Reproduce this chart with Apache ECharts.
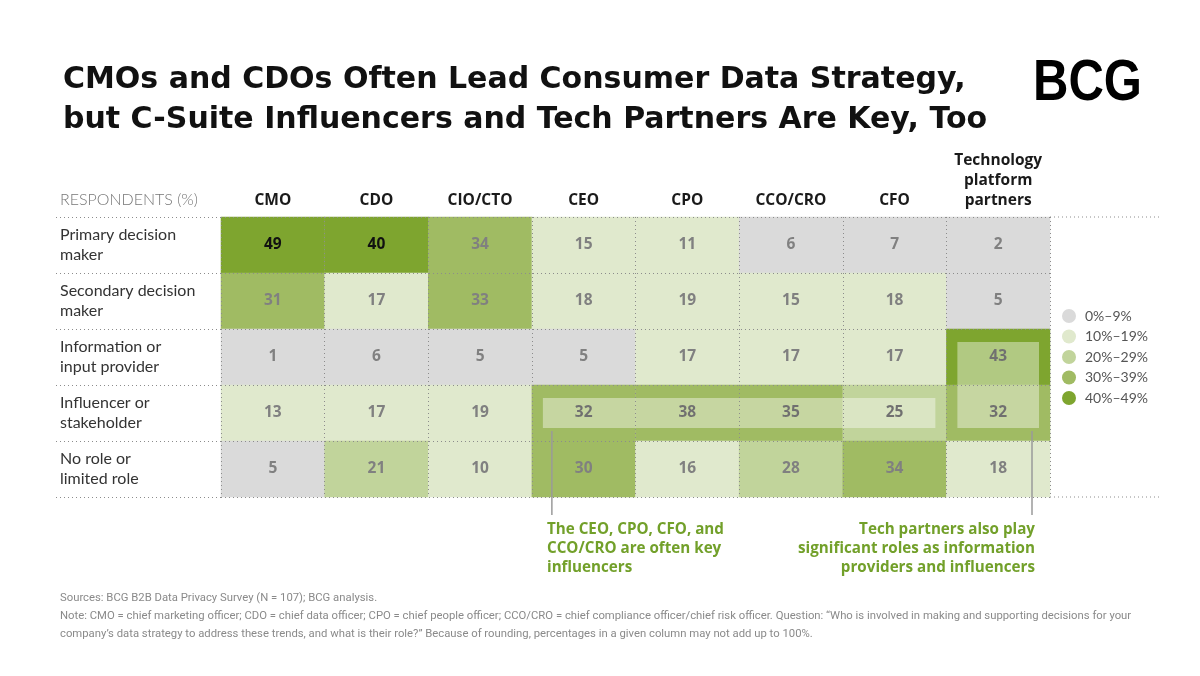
<!DOCTYPE html>
<html>
<head>
<meta charset="utf-8">
<title>Consumer data strategy roles</title>
<script src="https://cdn.jsdelivr.net/npm/echarts@6/dist/echarts.min.js"></script>
<style>
  html, body { margin: 0; padding: 0; background: #fff; }
  #chart { width: 1200px; height: 676px; }
</style>
</head>
<body>
<div id="chart"></div>
<script>
// Columns (who) and rows (role)
const columns = ['CMO', 'CDO', 'CIO/CTO', 'CEO', 'CPO', 'CCO/CRO', 'CFO', 'Technology\nplatform\npartners']
const roles = [
  'Primary decision\nmaker',
  'Secondary decision\nmaker',
  'Information or\ninput provider',
  'Influencer or\nstakeholder',
  'No role or\nlimited role'
]

// Respondents (%) per role, one value per column
const primaryDecision = [49, 40, 34, 15, 11, 6, 7, 2]
const secondaryDecision = [31, 17, 33, 18, 19, 15, 18, 5]
const informationProvider = [1, 6, 5, 5, 17, 17, 17, 43]
const influencer = [13, 17, 19, 32, 38, 35, 25, 32]
const noRole = [5, 21, 10, 30, 16, 28, 34, 18]
const rows = [primaryDecision, secondaryDecision, informationProvider, influencer, noRole]

// Legend bands
const bandLabels = ['0%–9%', '10%–19%', '20%–29%', '30%–39%', '40%–49%']
const bandMins = [0, 10, 20, 30, 40]
const bandColors = ['#dadada', '#e0e9cd', '#c1d49b', '#a0bb63', '#7ea52f']

// Highlighted blocks: [firstCol, firstRow, lastCol, lastRow, callout side]
const highlights = [
  [3, 3, 6, 3, 'left'],
  [7, 2, 7, 3, 'right']
]

const noteLeft = ['The CEO, CPO, CFO, and', 'CCO/CRO are often key', 'influencers']
const noteRight = ['Tech partners also play', 'significant roles as information', 'providers and influencers']

const isHighlighted = (c, r) => highlights.some(h => c >= h[0] && c <= h[2] && r >= h[1] && r <= h[3])

const cells = []
rows.forEach((vals, r) => {
  vals.forEach((v, c) => {
    const strong = v >= 40 || isHighlighted(c, r)
    cells.push({
      value: [c, r, v],
      label: { color: strong ? '#111' : '#808080' }
    })
  })
})

const dotted = { color: '#8c8c8c', width: 1, type: [1, 3] }
const green = '#72a02a'
const noteFont = 'bold 15.2px "Open Sans", sans-serif'

// annotation lines, one text element per line
const noteGraphics = []
noteLeft.forEach((line, i) => {
  noteGraphics.push({
    type: 'text', x: 547, y: 522 + i * 19,
    style: { text: line, font: noteFont, fill: green, align: 'left', verticalAlign: 'top' }
  })
})
noteRight.forEach((line, i) => {
  noteGraphics.push({
    type: 'text', x: 1035, y: 522 + i * 19,
    style: { text: line, font: noteFont, fill: green, align: 'right', verticalAlign: 'top' }
  })
})

const chart = echarts.init(document.getElementById('chart'))

chart.setOption({
  animation: false,
  title: {
    text: 'CMOs and CDOs Often Lead Consumer Data Strategy,\nbut C-Suite Influencers and Tech Partners Are Key, Too',
    left: 58,
    top: 55,
    textStyle: {
      fontFamily: 'DejaVu Sans',
      fontWeight: 700,
      fontSize: 30,
      lineHeight: 40,
      color: '#111'
    }
  },
  grid: { left: 221, right: 150, top: 217, bottom: 179 },
  xAxis: {
    type: 'category',
    data: columns,
    position: 'top',
    z: 5,
    axisLine: { show: false },
    axisTick: { show: false },
    axisLabel: {
      interval: 0,
      margin: 6,
      fontFamily: 'Open Sans',
      fontWeight: 700,
      fontSize: 15.5,
      lineHeight: 20,
      color: '#1a1a1a'
    },
    splitLine: { show: true, interval: 0, lineStyle: dotted }
  },
  yAxis: {
    type: 'category',
    data: roles,
    inverse: true,
    z: 5,
    axisLine: { show: false },
    axisTick: { show: true, interval: 0, length: 166, lineStyle: dotted },
    axisLabel: {
      interval: 0,
      margin: 161,
      align: 'left',
      fontFamily: 'Lato',
      fontSize: 16,
      lineHeight: 20,
      color: '#333'
    },
    splitLine: { show: true, interval: 0, lineStyle: dotted }
  },
  visualMap: {
    type: 'piecewise',
    dimension: 2,
    seriesIndex: 0,
    inverse: true,
    orient: 'vertical',
    align: 'left',
    left: 1062,
    top: 309,
    padding: 0,
    itemSymbol: 'circle',
    itemWidth: 14,
    itemHeight: 14,
    itemGap: 6.5,
    textGap: 9,
    selectedMode: false,
    hoverLink: false,
    textStyle: { fontFamily: 'Lato', fontSize: 14, color: '#555' },
    pieces: bandLabels.map((label, i) => ({
      gte: bandMins[i],
      lt: bandMins[i] + 10,
      label: label,
      color: bandColors[i]
    }))
  },
  graphic: [
    {
      type: 'text',
      left: 1033,
      top: 56,
      scaleX: 0.86,
      style: {
        text: 'BCG',
        font: 'bold 57px "Liberation Sans", Arial, sans-serif',
        fill: '#000'
      }
    },
    {
      type: 'text',
      left: 60,
      top: 192,
      style: {
        text: 'RESPONDENTS (%)',
        font: '300 16px Lato, sans-serif',
        fill: '#777'
      }
    },
    ...noteGraphics,
    {
      type: 'text',
      left: 60,
      top: 589,
      style: {
        text: 'Sources: BCG B2B Data Privacy Survey (N = 107); BCG analysis.\n' +
          'Note: CMO = chief marketing officer; CDO = chief data officer; CPO = chief people officer; CCO/CRO = chief compliance officer/chief risk officer. Question: \u201cWho is involved in making and supporting decisions for your\n' +
          'company\u2019s data strategy to address these trends, and what is their role?\u201d Because of rounding, percentages in a given column may not add up to 100%.',
        font: '11.3px Roboto, sans-serif',
        lineHeight: 18,
        fill: '#8a8a8a'
      }
    }
  ],
  series: [
    {
      name: 'Respondents',
      type: 'heatmap',
      data: cells,
      itemStyle: { borderWidth: 0 },
      label: {
        show: true,
        fontFamily: 'Open Sans',
        fontWeight: 700,
        fontSize: 15.5,
        formatter: p => p.value[2]
      },
      emphasis: { disabled: true }
    },
    {
      name: 'Highlights',
      type: 'custom',
      z: 3,
      silent: true,
      data: highlights,
      renderItem: (params, api) => {
        const a = api.coord([api.value(0), api.value(1)])
        const b = api.coord([api.value(2), api.value(3)])
        const size = api.size([1, 1])
        const x0 = a[0] - size[0] / 2 + 11
        const x1 = b[0] + size[0] / 2 - 11
        const y0 = a[1] - size[1] / 2 + 13
        const y1 = b[1] + size[1] / 2 - 13
        const side = highlights[params.dataIndex][4]
        const lx = side === 'left' ? x0 + 9 : x1 - 7
        return {
          type: 'group',
          children: [
            {
              type: 'rect',
              shape: { x: x0, y: y0, width: x1 - x0, height: y1 - y0 },
              style: { fill: 'rgba(255,255,255,0.4)' }
            },
            {
              type: 'line',
              shape: { x1: lx, y1: y1 + 3, x2: lx, y2: y1 + 87 },
              style: { stroke: '#9a9a9a', lineWidth: 1.5 }
            }
          ]
        }
      }
    },
    {
      // header and bottom rules run on past the table
      name: 'Rules',
      type: 'custom',
      z: 6,
      silent: true,
      data: [[columns.length - 1, 0], [columns.length - 1, roles.length - 1]],
      renderItem: (params, api) => {
        const p = api.coord([api.value(0), api.value(1)])
        const size = api.size([1, 1])
        const edge = params.dataIndex === 0 ? p[1] - size[1] / 2 : p[1] + size[1] / 2
        const x = p[0] + size[0] / 2
        return {
          type: 'line',
          shape: { x1: x, y1: edge, x2: x + 110, y2: edge },
          style: { stroke: '#8c8c8c', lineWidth: 1, lineDash: [1, 3] }
        }
      }
    }
  ]
})
</script>
</body>
</html>
